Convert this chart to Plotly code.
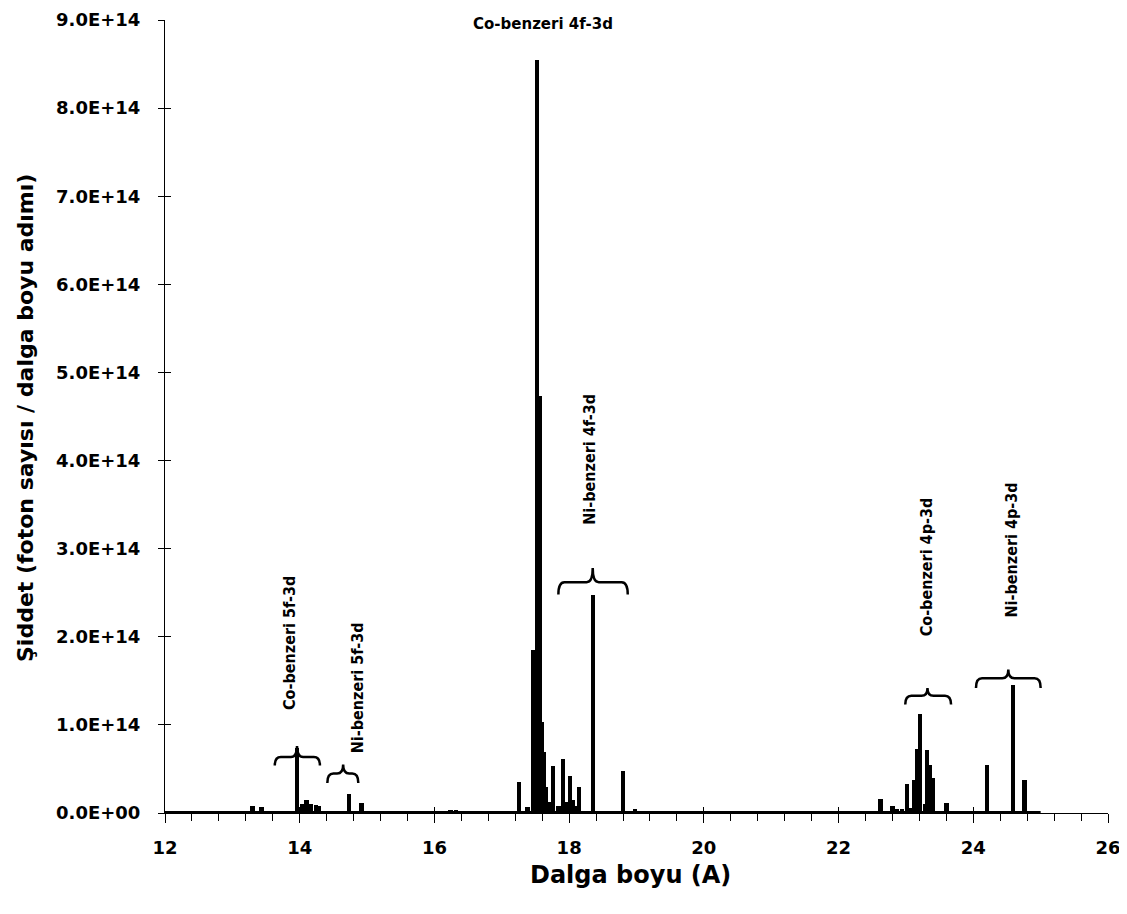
import plotly.graph_objects as go

# ---- spectrum lines (wavelength in Angstrom, intensity in photons / wavelength step)
wavelength = [13.30, 13.43, 13.69, 13.96, 14.03, 14.10, 14.17, 14.24, 14.28,
              14.73, 14.92, 15.27, 15.42, 15.47, 16.24, 16.32,
              17.26, 17.38, 17.47, 17.52, 17.57, 17.60, 17.63, 17.66, 17.70,
              17.76, 17.84, 17.91, 17.95, 18.01, 18.06, 18.11, 18.15, 18.35,
              18.80, 18.98,
              22.62, 22.80, 22.86, 22.94, 23.02, 23.08, 23.12, 23.17, 23.21,
              23.28, 23.31, 23.36, 23.40, 23.60, 24.20, 24.59, 24.76]
intensity = [0.085e14, 0.07e14, 0.012e14, 0.74e14, 0.10e14, 0.147e14, 0.10e14, 0.09e14, 0.085e14,
             0.22e14, 0.11e14, 0.02e14, 0.015e14, 0.015e14, 0.03e14, 0.03e14,
             0.35e14, 0.07e14, 1.85e14, 8.55e14, 4.73e14, 1.03e14, 0.69e14, 0.30e14, 0.12e14,
             0.53e14, 0.08e14, 0.61e14, 0.12e14, 0.42e14, 0.15e14, 0.08e14, 0.29e14, 2.47e14,
             0.48e14, 0.05e14,
             0.16e14, 0.08e14, 0.04e14, 0.04e14, 0.33e14, 0.06e14, 0.38e14, 0.73e14, 1.12e14,
             0.10e14, 0.72e14, 0.54e14, 0.395e14, 0.11e14, 0.54e14, 1.45e14, 0.38e14]
spectrum_range = [12.0, 25.0]
spectrum_floor = [0.0, 0.0]

# ---- axes
x_tick_values = [12, 14, 16, 18, 20, 22, 24, 26]
x_tick_labels = ["12", "14", "16", "18", "20", "22", "24", "26"]
y_tick_values = [0, 1e14, 2e14, 3e14, 4e14, 5e14, 6e14, 7e14, 8e14, 9e14]
y_tick_labels = ["0.0E+00", "1.0E+14", "2.0E+14", "3.0E+14", "4.0E+14",
                 "5.0E+14", "6.0E+14", "7.0E+14", "8.0E+14", "9.0E+14"]

# ---- group labels
label_texts = ["Co-benzeri 5f-3d", "Ni-benzeri 5f-3d", "Ni-benzeri 4f-3d",
               "Co-benzeri 4p-3d", "Ni-benzeri 4p-3d"]
label_x = [13.856, 14.87, 18.31, 23.30, 24.56]
label_y = [1.93e14, 1.42e14, 4.01e14, 2.79e14, 2.98e14]
top_label = "Co-benzeri 4f-3d"
top_label_x = 17.61
top_label_y = 8.95e14

# ---- curly braces grouping the lines
brace_left = [13.63, 14.41, 17.84, 22.99, 24.04]
brace_right = [14.30, 14.87, 18.87, 23.67, 25.00]
brace_center = [13.96, 14.645, 18.35, 23.32, 24.52]
brace_end_y = [0.54e14, 0.34e14, 2.48e14, 1.23e14, 1.42e14]
brace_bar_y = [0.635e14, 0.447e14, 2.62e14, 1.33e14, 1.53e14]
brace_tip_y = [0.76e14, 0.55e14, 2.78e14, 1.42e14, 1.63e14]

fig = go.Figure()
fig.add_trace(go.Scatter(x=spectrum_range, y=spectrum_floor, mode="lines",
                         line=dict(color="black", width=4), showlegend=False,
                         hoverinfo="skip"))
fig.add_trace(go.Bar(x=wavelength, y=intensity, width=0.065,
                     marker=dict(color="black", line=dict(width=0)),
                     showlegend=False))

tick_font = dict(family="DejaVu Sans", size=18, color="black", weight="bold")

# the page body adds an 8 px offset; margins compensate for it
fig.update_layout(
    width=1127, height=914, autosize=False,
    margin=dict(l=157, r=27, t=12, b=109, pad=0),
    paper_bgcolor="white", plot_bgcolor="white",
    bargap=0,
    xaxis=dict(range=[12, 26], tickvals=x_tick_values, ticktext=x_tick_labels,
               showline=True, linecolor="black", linewidth=1, mirror=False,
               ticks="outside", ticklen=9, tickwidth=1, tickcolor="black",
               minor=dict(tick0=12, dtick=0.4, ticks="outside", ticklen=7,
                          tickwidth=1, tickcolor="black"),
               showgrid=False, zeroline=False, tickfont=tick_font,
               ticklabelstandoff=9, ticklabeloverflow="allow", automargin=False),
    yaxis=dict(range=[0, 9e14], tickvals=y_tick_values, ticktext=y_tick_labels,
               showline=True, linecolor="black", linewidth=1,
               ticks="outside", ticklen=6, tickwidth=1, tickcolor="black",
               showgrid=False, zeroline=False, tickfont=tick_font,
               ticklabelstandoff=14, ticklabeloverflow="allow", automargin=False),
    xaxis2=dict(range=[12, 26], overlaying="x", anchor="y", tickvals=x_tick_values,
                ticks="inside", ticklen=6, tickcolor="black", showticklabels=False,
                showgrid=False, zeroline=False, showline=False, automargin=False),
    yaxis2=dict(range=[0, 9e14], overlaying="y", anchor="x", tickvals=y_tick_values,
                ticks="inside", ticklen=6, tickcolor="black", showticklabels=False,
                showgrid=False, zeroline=False, showline=False, automargin=False),
)
# invisible trace so that the overlay axes are drawn
fig.add_trace(go.Scatter(x=spectrum_range, y=spectrum_floor, xaxis="x2", yaxis="y2",
                         mode="lines", line=dict(width=0), showlegend=False,
                         hoverinfo="skip"))

# braces
def brace_path(x0, x1, xc, ye, yb, yt, dx=0.09):
    f = lambda v: f"{v:.6f}" if abs(v) < 1000 else f"{v:.0f}"
    pts = [
        f"M {f(x0)},{f(ye)}",
        f"Q {f(x0)},{f(yb)} {f(x0 + dx)},{f(yb)}",
        f"L {f(xc - dx)},{f(yb)}",
        f"Q {f(xc)},{f(yb)} {f(xc)},{f(yt)}",
        f"Q {f(xc)},{f(yb)} {f(xc + dx)},{f(yb)}",
        f"L {f(x1 - dx)},{f(yb)}",
        f"Q {f(x1)},{f(yb)} {f(x1)},{f(ye)}",
    ]
    return " ".join(pts)

for i in range(len(brace_left)):
    fig.add_shape(type="path", xref="x", yref="y",
                  path=brace_path(brace_left[i], brace_right[i], brace_center[i],
                                  brace_end_y[i], brace_bar_y[i], brace_tip_y[i]),
                  line=dict(color="black", width=2.5))

label_font = dict(family="DejaVu Sans Condensed, Liberation Sans Narrow, DejaVu Sans",
                  size=16, color="black", weight="bold")
for t, lx, ly in zip(label_texts, label_x, label_y):
    fig.add_annotation(x=lx, y=ly, xref="x", yref="y", text=t, textangle=-90,
                       showarrow=False, font=label_font,
                       xanchor="center", yanchor="middle")

fig.add_annotation(x=top_label_x, y=top_label_y, xref="x", yref="y", text=top_label,
                   showarrow=False,
                   font=dict(family="DejaVu Sans", size=15, color="black", weight="bold"),
                   xanchor="center", yanchor="middle")

# axis titles
plot_h = 914 - 12 - 109
fig.add_annotation(x=(630 - 165) / 943, y=-62 / plot_h, xref="paper", yref="paper",
                   text="Dalga boyu (A)", showarrow=False,
                   font=dict(family="DejaVu Sans", size=24, color="black", weight="bold"),
                   xanchor="center", yanchor="middle")
fig.add_annotation(x=(26 - 165) / 943, y=(813 - 418) / plot_h, xref="paper", yref="paper",
                   text="Şiddet (foton sayısı / dalga boyu adımı)", textangle=-90,
                   showarrow=False,
                   font=dict(family="DejaVu Sans", size=22, color="black", weight="bold"),
                   xanchor="center", yanchor="middle")

fig.write_html("out.html")
